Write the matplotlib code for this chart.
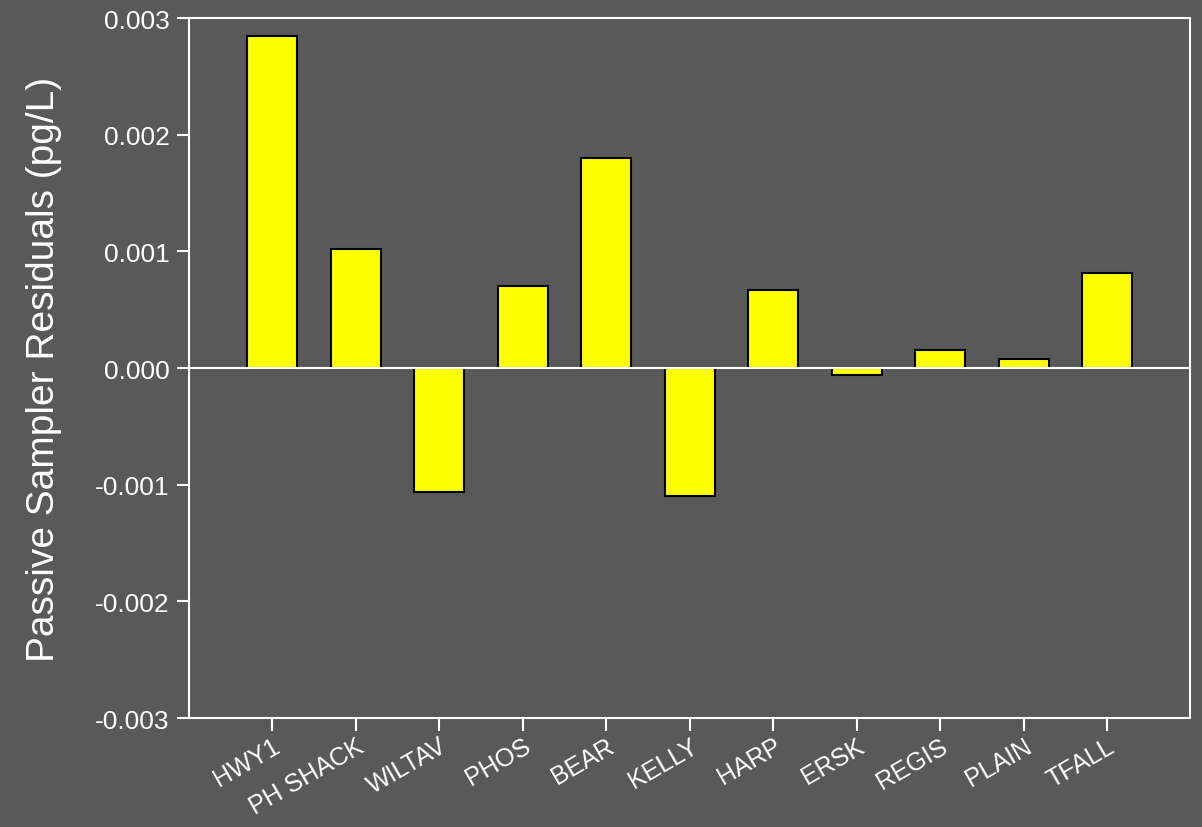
import matplotlib.pyplot as plt
import numpy as np

# sitios y residuales
sitios = ['HWY1', 'PH SHACK', 'WILTAV', 'PHOS', 'BEAR', 'KELLY',
          'HARP', 'ERSK', 'REGIS', 'PLAIN', 'TFALL']
residuales = [0.002845, 0.00102, -0.001063, 0.000703, 0.0018, -0.001097,
              0.000668, -0.00006, 0.000154, 0.000077, 0.000814]

plt.rcParams['font.family'] = ['Liberation Sans', 'DejaVu Sans']
fondo = '#595959'

fig = plt.figure(figsize=(12.02, 8.28), dpi=100, facecolor=fondo)
ax = fig.add_axes([0.1572, 0.1316, 0.8332, 0.8454])
ax.set_facecolor(fondo)

x = np.arange(1, len(sitios) + 1)
ax.bar(x, residuales, width=0.6, color='#ffff00', edgecolor='black',
       linewidth=1.5, zorder=2)
ax.axhline(0, color='white', linewidth=1.5, zorder=3)

ax.set_xlim(0, 12)
ax.set_ylim(-0.003, 0.003)
ax.set_yticks([-0.003, -0.002, -0.001, 0.0, 0.001, 0.002, 0.003])
ax.set_yticklabels(['-0.003', '-0.002', '-0.001', '0.000', '0.001', '0.002', '0.003'])
ax.set_xticks(x)
ax.set_xticklabels(sitios, rotation=30, ha='right', rotation_mode='anchor')

for s in ax.spines.values():
    s.set_color('white')
    s.set_linewidth(1.5)
ax.tick_params(colors='white', labelsize=19, length=9, width=1.5, direction='out')
ax.tick_params(axis='y', pad=5)
ax.tick_params(axis='x', labelsize=18, pad=2)
for lbl in ax.get_xticklabels():
    lbl.set_x(0)

ax.set_ylabel('Passive Sampler Residuals (pg/L)', color='white', fontsize=28, labelpad=24)

fig.savefig('out.png', dpi=100, facecolor=fondo)
